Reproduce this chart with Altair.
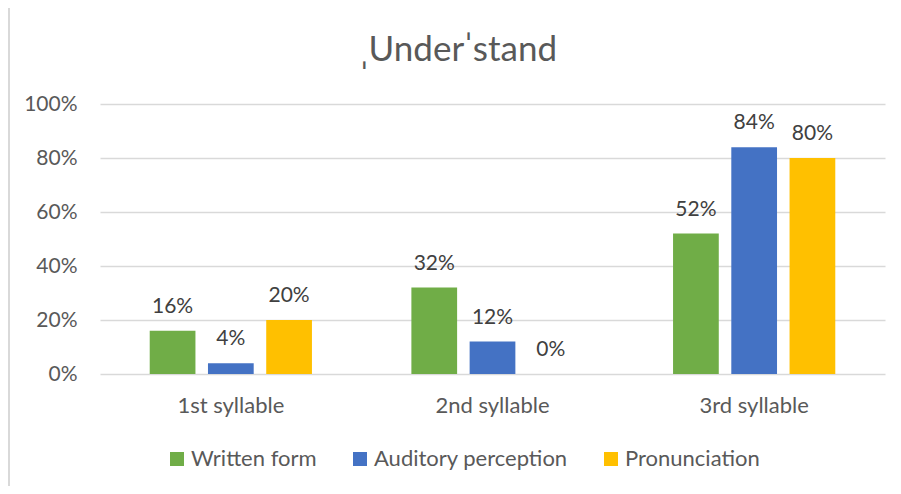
import altair as alt
import pandas as pd

title_text = "ˌUnderˈstand"
categories = ["1st syllable", "2nd syllable", "3rd syllable"]
series = ["Written form", "Auditory perception", "Pronunciation"]
written_form = [0.16, 0.32, 0.52]
auditory_perception = [0.04, 0.12, 0.84]
pronunciation = [0.20, 0.00, 0.80]
series_colors = ["#70AD47", "#4472C4", "#FFC000"]
y_ticks = [0.0, 0.2, 0.4, 0.6, 0.8, 1.0]

rows = []
for name, vals in zip(series, [written_form, auditory_perception, pronunciation]):
    for cat, v in zip(categories, vals):
        rows.append({"category": cat, "series": name, "value": v})
df = pd.DataFrame(rows)

FONT = "Lato"
TXT = "#595959"

x_enc = alt.X("category:N", sort=categories,
              scale=alt.Scale(paddingInner=0.38, paddingOuter=0.19),
              axis=alt.Axis(title=None, labelAngle=0, domain=False, ticks=False,
                            labelPadding=38, labelBaseline="alphabetic",
                            labelFontSize=22, labelFont=FONT, labelColor=TXT))
xoff_enc = alt.XOffset("series:N", sort=series,
                       scale=alt.Scale(paddingInner=0.215, paddingOuter=0))
y_enc = alt.Y("value:Q", scale=alt.Scale(domain=[0, 1]),
              axis=alt.Axis(title=None, values=y_ticks, format=".0%", domain=False,
                            ticks=False, labelPadding=23, labelFontSize=21,
                            labelFont=FONT, labelColor=TXT, gridColor="#D9D9D9",
                            gridWidth=1.5))

base = alt.Chart(df)

bars = base.mark_bar().encode(
    x=x_enc,
    xOffset=xoff_enc,
    y=y_enc,
    color=alt.Color("series:N", sort=series,
                    scale=alt.Scale(domain=series, range=series_colors),
                    legend=alt.Legend(title=None, orient="none", direction="horizontal",
                                      legendX=66, legendY=344, symbolType="square",
                                      symbolSize=196, symbolStrokeWidth=0,
                                      labelFont=FONT, labelFontSize=22, labelLimit=400,
                                      labelColor=TXT, labelOffset=3,
                                      columnPadding=32)),
)

labels = base.mark_text(font=FONT, fontSize=21, color="#404040", align="center",
                        baseline="alphabetic", dy=-18).encode(
    x=alt.X("category:N", sort=categories),
    xOffset=alt.XOffset("series:N", sort=series),
    y=alt.Y("value:Q"),
    text=alt.Text("value:Q", format=".0%"),
)

border = alt.Chart(pd.DataFrame({"k": [0]})).mark_rule(
    color="#D9D9D9", strokeWidth=2).encode(
    x=alt.value(-91), y=alt.value(-96), y2=alt.value(382))

chart = alt.layer(bars, labels, border).properties(
    width=785, height=270,
    title=alt.TitleParams(text=title_text, font=FONT, fontSize=35, fontWeight="normal",
                          color=TXT, anchor="middle", frame="group", dx=-34,
                          baseline="alphabetic", offset=0, dy=89),
    autosize=alt.AutoSizeParams(type="none"),
    padding={"left": 92, "top": 96, "right": 8, "bottom": 112},
).configure_view(stroke=None)

chart.save("out.html", embed_options={"renderer": "svg", "actions": False})
